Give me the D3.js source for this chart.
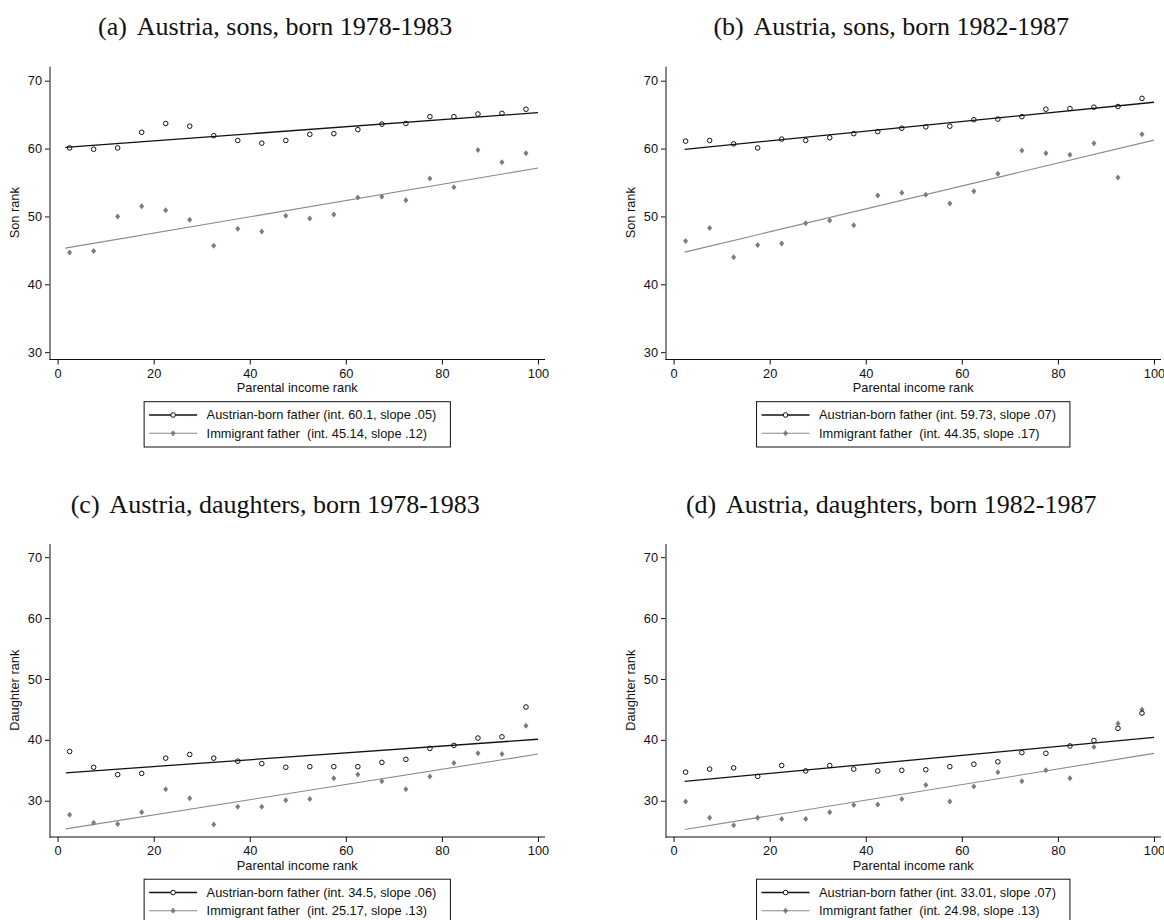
<!DOCTYPE html>
<html><head><meta charset="utf-8">
<script src="https://cdn.jsdelivr.net/npm/d3@7"></script>
<style>body{margin:0;background:#fff} svg{display:block} .lgt{white-space:pre}</style>
</head><body>
<svg id="chart" width="1164" height="920"></svg>
<script>
// ---------- data ----------
const parentRank = [2.5,7.5,12.5,17.5,22.5,27.5,32.5,37.5,42.5,47.5,52.5,57.5,62.5,67.5,72.5,77.5,82.5,87.5,92.5,97.5];
const xTicks = [0,20,40,60,80,100];
const yTicks = [30,40,50,60,70];

const panelTitles = ["Austria, sons, born 1978-1983","Austria, sons, born 1982-1987","Austria, daughters, born 1978-1983","Austria, daughters, born 1982-1987"];
const panelLetters = ["(a)","(b)","(c)","(d)"];
const yTitles = ["Son rank","Son rank","Daughter rank","Daughter rank"];
const xTitle = "Parental income rank";

const sonsA_native = [60.1,59.9,60.1,62.4,63.7,63.3,61.9,61.2,60.8,61.2,62.1,62.2,62.8,63.6,63.7,64.7,64.7,65.1,65.2,65.8];
const sonsA_immig  = [44.7,44.9,50.0,51.5,50.9,49.5,45.7,48.2,47.8,50.1,49.7,50.3,52.8,52.9,52.4,55.6,54.3,59.8,58.0,59.3];
const sonsB_native = [61.1,61.2,60.7,60.1,61.4,61.2,61.6,62.2,62.5,63.0,63.2,63.3,64.25,64.35,64.7,65.8,65.9,66.1,66.2,67.4];
const sonsB_immig  = [46.4,48.3,44.0,45.8,46.0,49.0,49.4,48.7,53.1,53.5,53.2,51.9,53.7,56.3,59.7,59.3,59.1,60.8,55.75,62.1];
const dauC_native  = [38.1,35.5,34.3,34.5,37.0,37.6,37.0,36.5,36.1,35.5,35.6,35.6,35.6,36.3,36.8,38.6,39.1,40.3,40.5,45.4];
const dauC_immig   = [27.7,26.4,26.2,28.1,31.9,30.4,26.1,29.0,29.0,30.1,30.3,33.7,34.3,33.2,31.9,34.0,36.2,37.8,37.7,42.3];
const dauD_native  = [34.7,35.2,35.4,34.0,35.8,34.9,35.8,35.2,34.9,35.0,35.1,35.6,36.0,36.4,37.9,37.8,39.0,39.9,41.9,44.4];
const dauD_immig   = [29.9,27.2,26.0,27.2,27.0,27.0,28.1,29.3,29.4,30.3,32.6,29.9,32.35,34.7,33.2,35.0,33.7,38.85,42.7,45.0];

// fitted lines: [intercept, slope]
const fitNative = [[60.1,0.052],[59.73,0.071],[34.5,0.056],[33.01,0.074]];
const fitImmig  = [[45.14,0.12],[44.35,0.169],[25.17,0.125],[24.98,0.128]];
const fitStart  = [1.6,2.3,1.7,2.3];
const fitEnd    = [100,100,100,100];

const legendNative = ["Austrian-born father (int. 60.1, slope .05)","Austrian-born father (int. 59.73, slope .07)","Austrian-born father (int. 34.5, slope .06)","Austrian-born father (int. 33.01, slope .07)"];
const legendImmig  = ["Immigrant father  (int. 45.14, slope .12)","Immigrant father  (int. 44.35, slope .17)","Immigrant father  (int. 25.17, slope .13)","Immigrant father  (int. 24.98, slope .13)"];

const yDomains = [[28.92,72.17],[28.92,72.17],[24.05,72.25],[24.05,72.25]];

const nativeSeries = [sonsA_native,sonsB_native,dauC_native,dauD_native];
const immigSeries  = [sonsA_immig,sonsB_immig,dauC_immig,dauD_immig];

// ---------- layout ----------
const offsets = [[0,0],[616,0],[0,477.5],[616,477.5]];
const G = {axisLeft:49.5, x0:57.6, x100:538, axisRight:545, top:66, bottom:359.5};
const sans = "'Liberation Sans', Arial, Helvetica, sans-serif";
const serif = "'Liberation Serif', 'Times New Roman', serif";
const fs = 12.8;
const gray = "#7c7c7c";
const grayLine = "#8a8a8a";

const svg = d3.select("#chart");
svg.append("rect").attr("width",1164).attr("height",920).attr("fill","#fff");

const diamond = "M0,-3L2.5,0L0,3L-2.5,0Z";

for (let p = 0; p < 4; p++) {
  const [ox, oy] = offsets[p];
  const g = svg.append("g").attr("transform", `translate(${ox},${oy})`);
  const x = d3.scaleLinear().domain([0,100]).range([G.x0, G.x100]);
  const y = d3.scaleLinear().domain(yDomains[p]).range([G.bottom, G.top]);
  const cx = (G.axisLeft + G.axisRight) / 2;

  // title
  const t = g.append("text").attr("x", cx - 22).attr("y", 35)
    .attr("text-anchor","middle").attr("font-family", serif).attr("font-size", 26).attr("fill","#111");
  t.append("tspan").text(panelLetters[p]);
  t.append("tspan").attr("dx", 9.8).text(panelTitles[p]);

  // y axis
  const ya = g.append("g").attr("transform", `translate(${G.axisLeft},0)`)
    .call(d3.axisLeft(y).tickValues(yTicks).tickSize(4.5).tickSizeOuter(0).tickPadding(3));
  ya.select(".domain").attr("stroke","#111").attr("stroke-width",1);
  ya.selectAll(".tick line").attr("stroke","#111");
  ya.selectAll("text").attr("font-family", sans).attr("font-size", fs).attr("fill","#111");

  // x axis
  const xa = g.append("g").attr("transform", `translate(0,${G.bottom})`)
    .call(d3.axisBottom(x).tickValues(xTicks).tickSize(5).tickSizeOuter(0).tickPadding(4));
  xa.select(".domain").remove();
  xa.append("line").attr("x1", G.axisLeft).attr("x2", G.axisRight).attr("y1",0).attr("y2",0)
    .attr("stroke","#111").attr("stroke-width",1);
  xa.selectAll(".tick line").attr("stroke","#111");
  xa.selectAll("text").attr("font-family", sans).attr("font-size", fs).attr("fill","#111");

  // axis titles
  g.append("text").attr("transform", `translate(18.5,${(G.top+G.bottom)/2}) rotate(-90)`)
    .attr("text-anchor","middle").attr("font-family", sans).attr("font-size", fs).attr("fill","#111")
    .text(yTitles[p]);
  g.append("text").attr("x", cx).attr("y", 392).attr("text-anchor","middle")
    .attr("font-family", sans).attr("font-size", fs).attr("fill","#111").text(xTitle);

  // fitted lines
  const fl = (fit) => [fitStart[p], fitEnd[p]].map(v => [x(v), y(fit[0] + fit[1]*v)]);
  g.append("path").attr("d", d3.line()(fl(fitImmig[p]))).attr("stroke", grayLine).attr("stroke-width",1.1).attr("fill","none");
  g.append("path").attr("d", d3.line()(fl(fitNative[p]))).attr("stroke", "#111").attr("stroke-width",1.3).attr("fill","none");

  // points
  g.append("g").selectAll("path").data(immigSeries[p]).join("path")
    .attr("d", diamond).attr("transform", (d,i) => `translate(${x(parentRank[i])},${y(d)})`)
    .attr("fill", gray);
  g.append("g").selectAll("circle").data(nativeSeries[p]).join("circle")
    .attr("cx", (d,i) => x(parentRank[i])).attr("cy", d => y(d)).attr("r", 2.3)
    .attr("fill","none").attr("stroke","#111").attr("stroke-width",1);

  // legend
  const lg = g.append("g");
  const rows = [415, 433.3];
  const texts = [legendNative[p], legendImmig[p]];
  const tEls = texts.map((s,i) => lg.append("text").attr("class","lgt").attr("xml:space","preserve")
    .attr("y", rows[i]).attr("dy","0.35em")
    .attr("font-family", sans).attr("font-size", fs).attr("fill","#111").text(s));
  const tw = d3.max(tEls, e => e.node().getComputedTextLength());
  const boxW = 5 + 48 + 9.5 + tw + 14;
  const bx = cx - boxW/2;
  lg.insert("rect", ":first-child").attr("x", bx).attr("y", 401.7).attr("width", boxW).attr("height", 45.3)
    .attr("fill","#fff").attr("stroke","#111").attr("stroke-width",1);
  tEls.forEach(e => e.attr("x", bx + 5 + 48 + 9.5));
  // legend samples
  lg.append("line").attr("x1", bx+5).attr("x2", bx+53).attr("y1", rows[0]).attr("y2", rows[0]).attr("stroke","#111").attr("stroke-width",1.3);
  lg.append("circle").attr("cx", bx+29).attr("cy", rows[0]).attr("r", 2.3).attr("fill","#fff").attr("stroke","#111");
  lg.append("line").attr("x1", bx+5).attr("x2", bx+53).attr("y1", rows[1]).attr("y2", rows[1]).attr("stroke", grayLine).attr("stroke-width",1.1);
  lg.append("path").attr("d", diamond).attr("transform", `translate(${bx+29},${rows[1]})`).attr("fill", gray);
}
</script>
</body></html>
